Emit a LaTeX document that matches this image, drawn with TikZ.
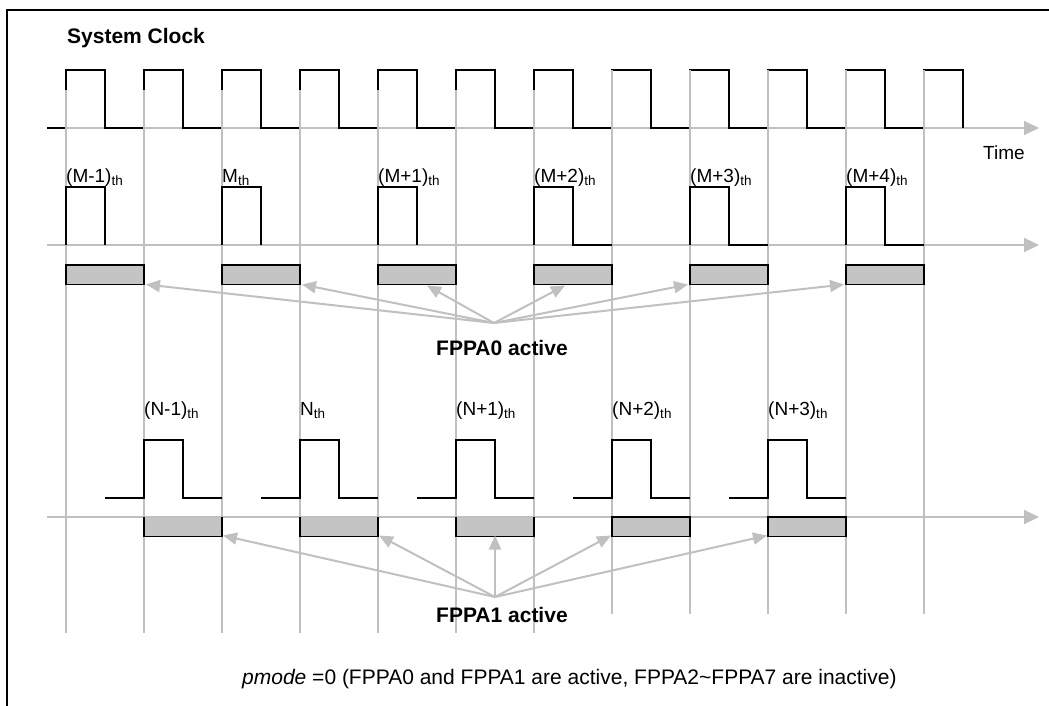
\documentclass[tikz,border=0pt]{standalone}
\usepackage{fontspec}
\setmainfont{Liberation Sans}
\usetikzlibrary{arrows.meta}
\definecolor{lg}{RGB}{192,192,192}
\definecolor{shadefill}{RGB}{196,196,196}
\newcommand{\thsub}{\raisebox{-3.5pt}{\fontsize{13.5}{13.5}\selectfont th}}
\begin{document}
\begin{tikzpicture}[x=1pt,y=-1pt,
  sig/.style={line width=2pt, black, line join=miter},
  gridline/.style={line width=1.6pt, lg},
  axisline/.style={line width=2pt, lg, -{Triangle[length=15pt,width=14pt]}},
  ptr/.style={line width=2pt, lg, -{Triangle[length=14pt,width=12pt]}},
  slot/.style={fill=shadefill, inner sep=0pt, outer sep=0pt, minimum width=78pt, minimum height=19.5pt, anchor=north west},
  boxed/.style={draw=black, line width=1.6pt},
  lbl/.style={font=\fontsize{19}{19}\selectfont, inner sep=0pt, anchor=base west},
  title/.style={font=\fontsize{21}{21}\selectfont\bfseries, inner sep=0pt, anchor=base west},
  caption/.style={font=\fontsize{21}{21}\selectfont\bfseries, inner sep=0pt, anchor=base west},
  note/.style={font=\fontsize{21}{21}\selectfont, inner sep=0pt, anchor=base west}]
\useasboundingbox (0,0) rectangle (1049,706);
% frame
\draw[line width=2pt] (7,706) -- (7,10) -- (1049,10);
% titles
\node[title] (sysclk) at (67,44) {System Clock};
\node[lbl] (time) at (983,160) {Time};
% clock axis
\coordinate (ca0) at (47,128);
\coordinate (ca1) at (1039,128);
\draw[axisline] (ca0) -- (ca1);
\draw[sig] (ca0) foreach \k in {0,...,11} { -- ({66+78*\k},128) -- ({66+78*\k},70) -- ({105+78*\k},70) -- ({105+78*\k},128) };
% vertical grid lines
\foreach \k in {0,...,6} { \draw[gridline] ({66+78*\k},90) -- ({66+78*\k},633); }
\foreach \k in {7,...,11} { \draw[gridline] ({66+78*\k},70) -- ({66+78*\k},614); }
% M row
\coordinate (ma0) at (47,245);
\coordinate (ma1) at (1039,245);
\draw[axisline] (ma0) -- (ma1);
\foreach \x in {66,222,378} { \draw[sig] (\x,245) -- (\x,187) -- (\x+39,187) -- (\x+39,245); }
\foreach \x in {534,690,846} { \draw[sig] (\x,245) -- (\x,187) -- (\x+39,187) -- (\x+39,245) -- (\x+78,245); }
\node[lbl] (lm1) at (66,182) {(M-1)\thsub};
\node[lbl] (lm2) at (222,182) {M\thsub};
\node[lbl] (lm3) at (378,182) {(M+1)\thsub};
\node[lbl] (lm4) at (534,182) {(M+2)\thsub};
\node[lbl] (lm5) at (690,182) {(M+3)\thsub};
\node[lbl] (lm6) at (846,182) {(M+4)\thsub};
\node[slot,boxed] (m1) at (66,265) {};
\node[slot,boxed] (m2) at (222,265) {};
\node[slot,boxed] (m3) at (378,265) {};
\node[slot,boxed] (m4) at (534,265) {};
\node[slot,boxed] (m5) at (690,265) {};
\node[slot,boxed] (m6) at (846,265) {};
\coordinate (h0) at (494,323);
\draw[ptr] (h0) -- ([xshift=2pt]m1.south east);
\draw[ptr] (h0) -- ([xshift=2pt]m2.south east);
\draw[ptr] (h0) -- ([xshift=10pt,yshift=-1pt]m3.south);
\draw[ptr] (h0) -- ([xshift=-8pt,yshift=-1pt]m4.south);
\draw[ptr] (h0) -- ([xshift=-2pt]m5.south west);
\draw[ptr] (h0) -- ([xshift=-2pt]m6.south west);
\node[caption] (c0) at (436,355) {FPPA0 active};
% N row
\foreach \x in {144,300,456,612,768} { \draw[sig] (\x-39,498) -- (\x,498) -- (\x,440) -- (\x+39,440) -- (\x+39,498) -- (\x+78,498); }
\node[lbl] (ln1) at (144,415) {(N-1)\thsub};
\node[lbl] (ln2) at (300,415) {N\thsub};
\node[lbl] (ln3) at (456,415) {(N+1)\thsub};
\node[lbl] (ln4) at (612,415) {(N+2)\thsub};
\node[lbl] (ln5) at (768,415) {(N+3)\thsub};
\node[slot] (n1) at (144,517) {};
\node[slot] (n2) at (300,517) {};
\node[slot] (n3) at (456,517) {};
\coordinate (na0) at (47,517);
\coordinate (na1) at (1039,517);
\draw[axisline] (na0) -- (na1);
\foreach \n in {n1,n2,n3} { \draw[line width=1.6pt] (\n.north west) -- (\n.south west) -- (\n.south east) -- (\n.north east); }
\node[slot,boxed] (n4) at (612,517) {};
\node[slot,boxed] (n5) at (768,517) {};
\coordinate (h1) at (495,597);
\draw[ptr] (h1) -- ([xshift=1pt,yshift=1pt]n1.south east);
\draw[ptr] (h1) -- ([xshift=1pt,yshift=1pt]n2.south east);
\draw[ptr] (h1) -- ([yshift=1pt]n3.south);
\draw[ptr] (h1) -- ([xshift=-1pt,yshift=1pt]n4.south west);
\draw[ptr] (h1) -- ([xshift=-1pt,yshift=1pt]n5.south west);
\node[caption] (c1) at (436,622) {FPPA1 active};
% bottom note
\node[note] (pm) at (242,684) {\textit{pmode} =0 (FPPA0 and FPPA1 are active, FPPA2\textasciitilde FPPA7 are inactive)};
\end{tikzpicture}
\end{document}
